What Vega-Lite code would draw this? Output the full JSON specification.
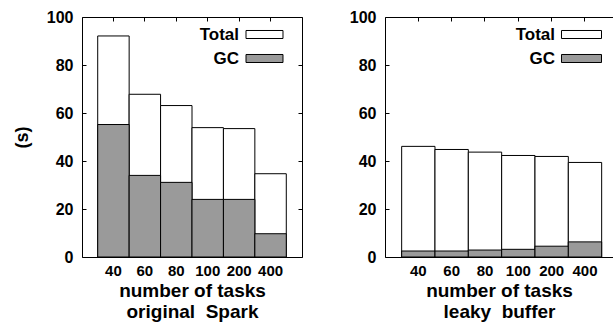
{
  "$schema": "https://vega.github.io/schema/vega-lite/v6.json",
  "padding": {"left": 12, "top": 8, "right": 0, "bottom": 0},
  "config": {
    "font": "Liberation Sans",
    "view": {"stroke": null},
    "axis": {
      "labelFont": "Liberation Sans", "labelFontWeight": "bold", "labelFontSize": 16, "labelColor": "black",
      "titleFont": "Liberation Sans", "titleFontWeight": "bold", "titleColor": "black",
      "domainColor": "black", "tickColor": "black", "grid": false
    },
    "legend": {
      "orient": "none", "title": null, "padding": 0,
      "labelFont": "Liberation Sans", "labelFontSize": 17, "labelFontWeight": "bold", "labelColor": "black",
      "symbolStrokeColor": "black", "symbolStrokeWidth": 1,
      "labelAlign": "right", "rowPadding": 6
    }
  },
  "datasets": {
    "orig": [
      {"tasks": "40", "series": "Total", "value": 92.1},
      {"tasks": "60", "series": "Total", "value": 67.8},
      {"tasks": "80", "series": "Total", "value": 63.1},
      {"tasks": "100", "series": "Total", "value": 53.9},
      {"tasks": "200", "series": "Total", "value": 53.5},
      {"tasks": "400", "series": "Total", "value": 34.7},
      {"tasks": "40", "series": "GC", "value": 55.2},
      {"tasks": "60", "series": "GC", "value": 34.0},
      {"tasks": "80", "series": "GC", "value": 31.1},
      {"tasks": "100", "series": "GC", "value": 24.0},
      {"tasks": "200", "series": "GC", "value": 24.0},
      {"tasks": "400", "series": "GC", "value": 9.7}
    ],
    "leaky": [
      {"tasks": "40", "series": "Total", "value": 46.1},
      {"tasks": "60", "series": "Total", "value": 44.8},
      {"tasks": "80", "series": "Total", "value": 43.7},
      {"tasks": "100", "series": "Total", "value": 42.3},
      {"tasks": "200", "series": "Total", "value": 41.9},
      {"tasks": "400", "series": "Total", "value": 39.4},
      {"tasks": "40", "series": "GC", "value": 2.5},
      {"tasks": "60", "series": "GC", "value": 2.5},
      {"tasks": "80", "series": "GC", "value": 2.9},
      {"tasks": "100", "series": "GC", "value": 3.2},
      {"tasks": "200", "series": "GC", "value": 4.5},
      {"tasks": "400", "series": "GC", "value": 6.3}
    ]
  },
  "spacing": 46,
  "resolve": {"legend": {"color": "independent"}},
  "hconcat": [
    {
      "width": 220, "height": 240,
      "data": {"name": "orig"},
      "view": {"stroke": "black", "strokeWidth": 1},
      "layer": [
        {
          "mark": {"type": "bar", "stroke": "black", "strokeWidth": 1},
          "encoding": {
            "x": {"field": "tasks", "type": "ordinal", "sort": null,
                  "scale": {"paddingInner": 0, "paddingOuter": 0.5},
                  "axis": {"orient": "bottom", "labelAngle": 0, "ticks": false, "domain": false, "labelPadding": 6, "labelFontSize": 15,
                           "title": ["number of tasks", "original \u00a0Spark"], "titleFontSize": 19, "titleLineHeight": 21, "titlePadding": 3}},
            "y": {"field": "value", "type": "quantitative", "stack": null, "scale": {"domain": [0, 100]},
                  "axis": {"orient": "left", "values": [0, 20, 40, 60, 80, 100], "tickSize": -4, "labelPadding": 13, "domain": false,
                           "title": "(s)", "titleFontSize": 18, "titlePadding": 15}},
            "color": {"field": "series", "type": "nominal",
                      "scale": {"domain": ["Total", "GC"], "range": ["white", "#9a9a9a"]},
                      "legend": {"legendX": 174, "legendY": 9, "symbolType": "M-3,-0.65H3V0.65H-3Z", "symbolSize": 152, "labelOffset": -34}}
          }
        },
        {
          "mark": {"type": "bar", "opacity": 0},
          "encoding": {
            "x": {"field": "tasks", "type": "ordinal", "sort": null,
                  "axis": {"orient": "top", "labels": false, "tickSize": -4, "domain": false, "title": null}},
            "y": {"field": "value", "type": "quantitative", "stack": null,
                  "axis": {"orient": "right", "values": [0, 20, 40, 60, 80, 100], "labels": false, "tickSize": -4, "domain": false, "title": null}}
          }
        }
      ],
      "resolve": {"axis": {"x": "independent", "y": "independent"}}
    },
    {
      "width": 228, "height": 240,
      "data": {"name": "leaky"},
      "layer": [
        {
          "mark": {"type": "bar", "stroke": "black", "strokeWidth": 1},
          "encoding": {
            "x": {"field": "tasks", "type": "ordinal", "sort": null,
                  "scale": {"paddingInner": 0, "paddingOuter": 0.42, "align": 0.595},
                  "axis": {"orient": "bottom", "labelAngle": 0, "ticks": false, "domain": true, "labelPadding": 6, "labelFontSize": 15,
                           "title": ["number of tasks", "leaky \u00a0buffer"], "titleFontSize": 19, "titleLineHeight": 21, "titlePadding": 3}},
            "y": {"field": "value", "type": "quantitative", "stack": null, "scale": {"domain": [0, 100]},
                  "axis": {"orient": "left", "values": [0, 20, 40, 60, 80, 100], "tickSize": -4, "labelPadding": 13, "domain": true, "title": null}},
            "color": {"field": "series", "type": "nominal",
                      "scale": {"domain": ["Total", "GC"], "range": ["white", "#9a9a9a"]},
                      "legend": {"legendX": 188, "legendY": 9, "symbolType": "M-3,-0.6H3V0.6H-3Z", "symbolSize": 178, "labelOffset": -35}}
          }
        },
        {
          "mark": {"type": "bar", "opacity": 0},
          "encoding": {
            "x": {"field": "tasks", "type": "ordinal", "sort": null,
                  "axis": {"orient": "top", "labels": false, "tickSize": -4, "domain": true, "title": null}}
          }
        }
      ],
      "resolve": {"axis": {"x": "independent"}}
    }
  ]
}
